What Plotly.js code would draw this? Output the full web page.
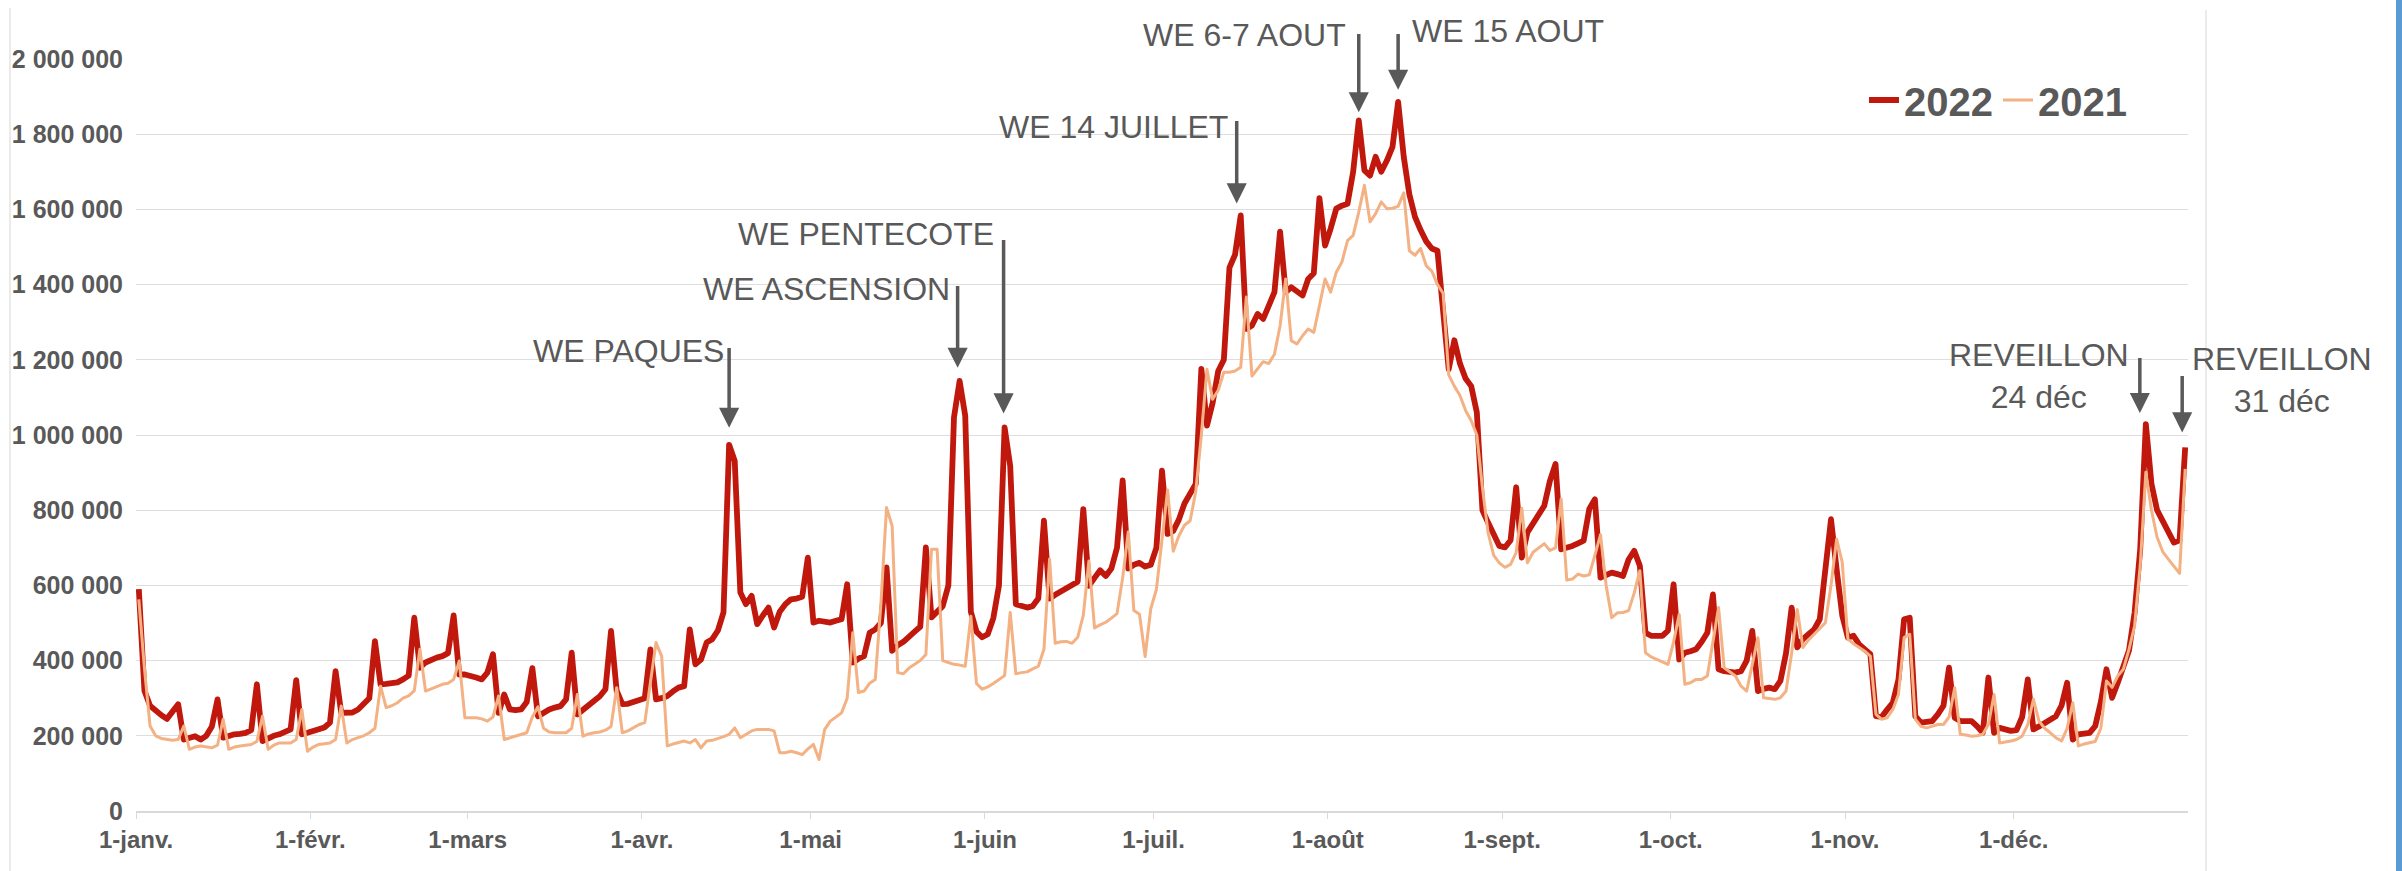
<!DOCTYPE html>
<html>
<head>
<meta charset="utf-8">
<script src="https://cdn.plot.ly/plotly-3.0.1.min.js"></script>
<style>
  html, body { margin: 0; padding: 0; background: #ffffff; }
  #chart { width: 2402px; height: 871px; }
  path.js-line { stroke-linejoin: round; }
</style>
</head>
<body>
<div id="chart"></div>
<script>
// ---------------- DATA (daily values, thousands) ----------------
const startDate = '2022-01-01';

const monthTickDates = ['2022-01-01','2022-02-01','2022-03-01','2022-04-01','2022-05-01','2022-06-01',
                        '2022-07-01','2022-08-01','2022-09-01','2022-10-01','2022-11-01','2022-12-01'];
const monthTickLabels = ['1-janv.','1-févr.','1-mars','1-avr.','1-mai','1-juin',
                         '1-juil.','1-août','1-sept.','1-oct.','1-nov.','1-déc.'];

const yTickValues = [0, 200, 400, 600, 800, 1000, 1200, 1400, 1600, 1800, 2000];
const yTickLabels = ['0','200 000','400 000','600 000','800 000','1 000 000','1 200 000',
                     '1 400 000','1 600 000','1 800 000','2 000 000'];

const values2022 = [
  // janv.
  590,320,280,265,255,245,262,284,190,195,199,190,200,225,297,195,200,204,205,208,215,337,186,195,200,204,210,217,348,204,208,
  // févr.
  213,218,222,235,372,261,261,262,270,285,300,452,337,338,339,342,350,360,514,381,395,403,408,412,420,520,363,363,
  // mars
  360,355,350,368,417,261,310,270,268,270,290,380,252,262,270,275,279,297,421,257,270,279,297,305,324,479,320,284,285,290,292,
  // avr.
  300,430,297,300,306,318,328,332,483,390,403,448,457,480,528,974,931,581,550,572,497,520,541,488,530,550,563,565,570,674,
  // mai
  501,506,504,501,506,510,603,395,405,412,474,483,500,648,426,441,450,466,477,490,701,515,530,545,600,1047,1144,1051,530,477,462,
  // juin
  470,513,600,1020,918,550,546,541,545,565,772,565,575,584,590,599,610,803,599,620,640,625,645,700,879,645,655,660,650,655,
  // juil.
  700,905,737,745,775,818,844,870,1176,1025,1085,1170,1200,1445,1480,1584,1282,1291,1322,1309,1344,1380,1541,1380,1393,1380,1371,1415,1430,1630,1504,
  // août
  1549,1602,1610,1615,1700,1837,1704,1690,1740,1700,1730,1766,1886,1740,1640,1580,1545,1515,1496,1490,1330,1175,1252,1190,1150,1130,1060,800,767,735,705,
  // sept.
  701,720,861,674,741,765,790,812,878,923,696,700,705,712,719,803,829,621,628,634,630,625,669,692,652,474,466,466,466,480,
  // oct.
  603,403,421,425,430,450,474,576,377,372,370,368,372,400,479,319,325,328,324,346,420,541,435,457,470,483,510,650,776,643,520,
  // nov.
  461,466,443,430,417,252,250,270,288,350,510,514,252,235,237,239,257,280,381,248,239,240,239,225,208,355,208,221,218,213,
  // déc.
  215,250,350,217,225,235,245,252,280,341,190,204,206,208,226,290,377,301,341,381,427,527,696,1029,870,800,770,743,714,720,967
];

const values2021 = [
  // janv.
  563,380,226,200,193,190,188,190,226,164,170,173,170,168,175,244,164,170,173,175,177,185,252,164,175,181,181,181,190,270,159,
  // févr.
  170,177,180,181,190,279,181,190,195,200,208,220,332,275,280,288,300,306,320,430,319,325,332,337,340,350,399,248,
  // mars
  248,248,245,239,250,306,190,195,199,203,208,250,277,220,210,208,208,208,220,310,199,205,208,210,215,225,328,208,213,221,230,
  // avr.
  235,340,448,412,173,178,181,186,181,190,168,186,188,192,198,204,221,195,205,213,217,217,217,213,155,155,159,155,150,165,
  // mai
  177,137,217,239,250,261,300,474,315,319,340,350,550,807,758,368,365,380,390,400,416,696,696,400,395,390,388,385,518,339,324,
  // juin
  330,339,350,360,528,365,368,370,378,385,430,670,446,450,451,446,462,520,665,487,495,502,513,525,620,742,533,523,411,538,
  // juil.
  589,720,854,691,732,760,772,849,1000,1175,1095,1119,1167,1167,1170,1180,1367,1157,1176,1195,1190,1215,1290,1415,1251,1242,1264,1282,1273,1344,1415,
  // août
  1380,1433,1460,1517,1531,1593,1664,1567,1589,1620,1602,1603,1608,1644,1490,1478,1496,1450,1436,1400,1377,1160,1130,1105,1065,1038,1000,860,740,680,660,
  // sept.
  648,656,688,805,660,688,700,711,693,700,830,614,617,630,625,628,680,735,600,514,527,528,533,580,639,421,410,403,395,390,
  // oct.
  450,523,337,341,350,350,359,450,541,381,370,359,332,319,390,461,301,299,297,301,319,420,536,435,455,470,485,501,600,723,661,
  // nov.
  457,445,435,425,412,257,244,248,270,310,461,470,244,225,221,225,230,230,250,328,204,202,199,200,204,230,310,181,183,186,
  // déc.
  190,199,230,297,239,220,208,195,186,220,288,173,178,181,185,220,346,329,359,377,430,492,653,901,800,728,690,670,650,632,910
];

// Labelled events: [label, index of the day in the series]
const events = [
  {label: 'WE PAQUES',     day: 105},
  {label: 'WE ASCENSION',  day: 146},
  {label: 'WE PENTECOTE',  day: 154},
  {label: 'WE 14 JUILLET', day: 196},
  {label: 'WE 6-7 AOUT',   day: 217},
  {label: 'WE 15 AOUT',    day: 224},
  {label: 'REVEILLON<br>24 déc', day: 357},
  {label: 'REVEILLON<br>31 déc', day: 364}
];

// ---------------- BUILD ----------------
function dayToDate(i) {
  const d = new Date(Date.parse(startDate + 'T00:00:00Z') + i * 86400000 + 12 * 3600000);
  return d.toISOString().slice(0, 19).replace('T', ' ');
}
const dates = values2022.map((_, i) => dayToDate(i));

const W = 2402, H = 871;
const M = {l: 136, r: 214, t: 59, b: 60};
const PW = W - M.l - M.r, PH = H - M.t - M.b;
const px2x = px => (px - M.l) / PW;
const py2y = py => (H - M.b - py) / PH;

const GREY = '#595959';
const FONT = 'Liberation Sans, Arial, Helvetica, sans-serif';

const trace2022 = {
  x: dates, y: values2022, type: 'scatter', mode: 'lines', name: '2022',
  line: {color: '#C0180C', width: 5.8}, legendrank: 1
};
const trace2021 = {
  x: dates, y: values2021, type: 'scatter', mode: 'lines', name: '2021',
  line: {color: '#F4B183', width: 3}, legendrank: 2
};

// arrow geometry (pixels): top of arrow line, gap to data point, x shift
const arrowStyle = [
  {top: 347, gap: 17, dx: 0},
  {top: 285, gap: 13, dx: -2},
  {top: 239, gap: 14, dx: -1},
  {top: 120, gap: 12, dx: -4},
  {top: 33,  gap: 8,  dx: 0},
  {top: 33,  gap: 12, dx: 0},
  {top: 357, gap: 11, dx: -6},
  {top: 375, gap: 15, dx: -3}
];
// text placement (pixels)
const textStyle = [
  {x: 726,  y: 331, anchor: 'right'},
  {x: 952,  y: 269, anchor: 'right'},
  {x: 996,  y: 214, anchor: 'right'},
  {x: 1230, y: 107, anchor: 'right'},
  {x: 1348, y: 15,  anchor: 'right'},
  {x: 1410, y: 11,  anchor: 'left'},
  {x: 2039, y: 335, anchor: 'center'},
  {x: 2282, y: 339, anchor: 'center'}
];

const annotations = [];
events.forEach((ev, k) => {
  const v = values2022[ev.day];
  const peakPy = H - M.b - v / 2000 * PH;
  const a = arrowStyle[k];
  annotations.push({
    x: dates[ev.day], y: v, xref: 'x', yref: 'y',
    text: ' ', font: {size: 1}, borderpad: 0,
    showarrow: true, arrowhead: 2, arrowsize: 1.15, arrowwidth: 3.5, arrowcolor: GREY,
    ax: 0, ay: -(peakPy - a.top), standoff: a.gap, xshift: a.dx
  });
  const t = textStyle[k];
  annotations.push({
    x: px2x(t.x), y: py2y(t.y), xref: 'paper', yref: 'paper',
    xanchor: t.anchor, yanchor: 'top', align: 'center',
    text: ev.label, showarrow: false,
    font: {family: FONT, size: 32, color: GREY}
  });
});

const frameShapes = [
  {type: 'line', xref: 'paper', yref: 'paper', x0: px2x(10), x1: px2x(10), y0: py2y(8), y1: py2y(871),
   line: {color: '#e4e4e4', width: 1.5}},
  {type: 'line', xref: 'paper', yref: 'paper', x0: px2x(2206), x1: px2x(2206), y0: py2y(10), y1: py2y(871),
   line: {color: '#e4e4e4', width: 1.5}},
  {type: 'rect', xref: 'paper', yref: 'paper', x0: px2x(2396), x1: px2x(2403), y0: py2y(-2), y1: py2y(873),
   fillcolor: '#5B9BD5', line: {width: 0}}
];

const layout = {
  width: W, height: H,
  margin: M,
  paper_bgcolor: '#ffffff', plot_bgcolor: '#ffffff',
  showlegend: true,
  legend: {
    orientation: 'h', x: px2x(1864), y: py2y(100), xanchor: 'left', yanchor: 'middle',
    bgcolor: '#ffffff', font: {family: FONT, size: 40, color: GREY, weight: 'bold'},
    itemwidth: 30
  },
  xaxis: {
    type: 'date', range: ['2022-01-01', '2023-01-01'],
    tickmode: 'array', tickvals: monthTickDates, ticktext: monthTickLabels,
    showgrid: false, zeroline: false,
    showline: true, linecolor: '#d9d9d9', linewidth: 2,
    ticks: 'outside', ticklen: 6, tickcolor: '#d9d9d9', tickwidth: 1,
    tickfont: {family: FONT, size: 24, color: GREY, weight: 'bold'}
  },
  yaxis: {
    range: [0, 2000], tickmode: 'array', tickvals: yTickValues, ticktext: yTickLabels,
    showgrid: true, gridcolor: '#dedede', gridwidth: 1,
    zeroline: false, showline: false, ticks: '',
    ticklabelstandoff: 12,
    tickfont: {family: FONT, size: 25, color: GREY, weight: 'bold'}
  },
  annotations: annotations,
  shapes: frameShapes
};

Plotly.newPlot('chart', [trace2022, trace2021], layout, {displayModeBar: false, staticPlot: true});
</script>
</body>
</html>
